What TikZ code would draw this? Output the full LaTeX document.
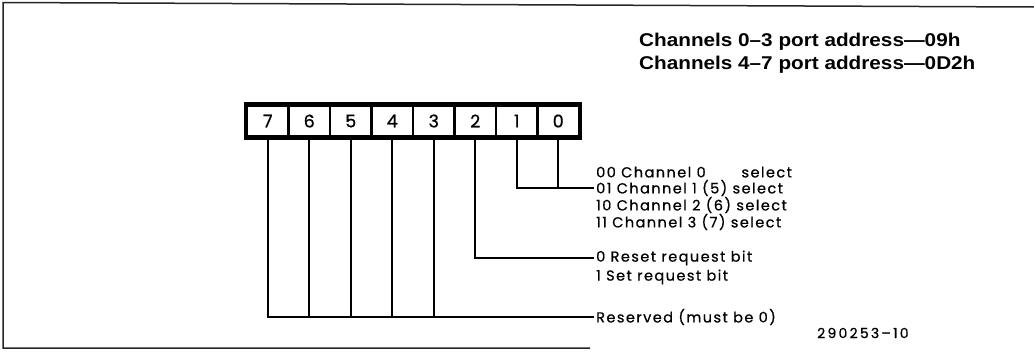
\documentclass[tikz,border=0pt]{standalone}
\usepackage{fontspec}
\usepackage{tikz}
\newfontfamily\lblfont{Poppins}[LetterSpace=10,FakeBold=0.6]
\newfontfamily\numfont{Poppins}[LetterSpace=16,FakeBold=0.6]
\newfontfamily\bitfont{Poppins}[FakeBold=0.8]
\newfontfamily\ttlfont{Liberation Sans}[FakeStretch=1.12]

\begin{document}
\begin{tikzpicture}[x=1pt,y=-1pt,
  bitcell/.style={draw,line width=2.5pt,minimum width=41.5pt,minimum height=31pt,inner sep=0pt,font=\bitfont\fontsize{17.5}{17.5}\selectfont},
  lbl/.style={anchor=west,inner sep=2pt,font=\lblfont\fontsize{14.5}{14.5}\selectfont},
  ttl/.style={anchor=west,inner sep=0pt,font=\ttlfont\bfseries\fontsize{18.5}{18.5}\selectfont},
  wire/.style={line width=2pt}]
\useasboundingbox (0,0) rectangle (1034,351);
\draw[line width=1.5pt,black!85] (1034,7) -- (3,2.5) -- (3,348) -- (590,348);
\node[ttl] (ttlA) at (639,42) {Channels 0–3 port address—09h};
\node[ttl] (ttlB) at (639,65) {Channels 4–7 port address—0D2h};
\foreach \b in {7,...,0}
  \node[bitcell] (b\b) at ({247+41.5*(7-\b)+20.75},121) {\b};
\draw[line width=4pt] (b7.north west) rectangle (b0.south east);
\node[lbl] (sel0) at (594,172) {00 Channel 0 \phantom{(5)} select};
\node[lbl] (sel1) at (594,188) {01 Channel 1 (5) select};
\node[lbl] (sel2) at (594,205) {10 Channel 2 (6) select};
\node[lbl] (sel3) at (594,222) {11 Channel 3 (7) select};
\node[lbl] (reqA) at (594,258) {0 Reset request bit};
\node[lbl] (reqB) at (594,277) {1 Set request bit};
\node[lbl] (resv) at (594,317) {Reserved (must be 0)};
\node[anchor=west,inner sep=0pt,font=\numfont\fontsize{14}{14}\selectfont] (figno) at (817,333) {290253–10};
\draw[wire] (b1.south) |- (sel1.west);
\draw[wire] (b0.south) -- (b0.south |- sel1.west);
\draw[wire] (b2.south) |- (reqA.west);
\draw[wire] (b7.south) |- (resv.west);
\foreach \b in {6,5,4,3}
  \draw[wire] (b\b.south) -- (b\b.south |- resv.west);
\end{tikzpicture}
\end{document}
